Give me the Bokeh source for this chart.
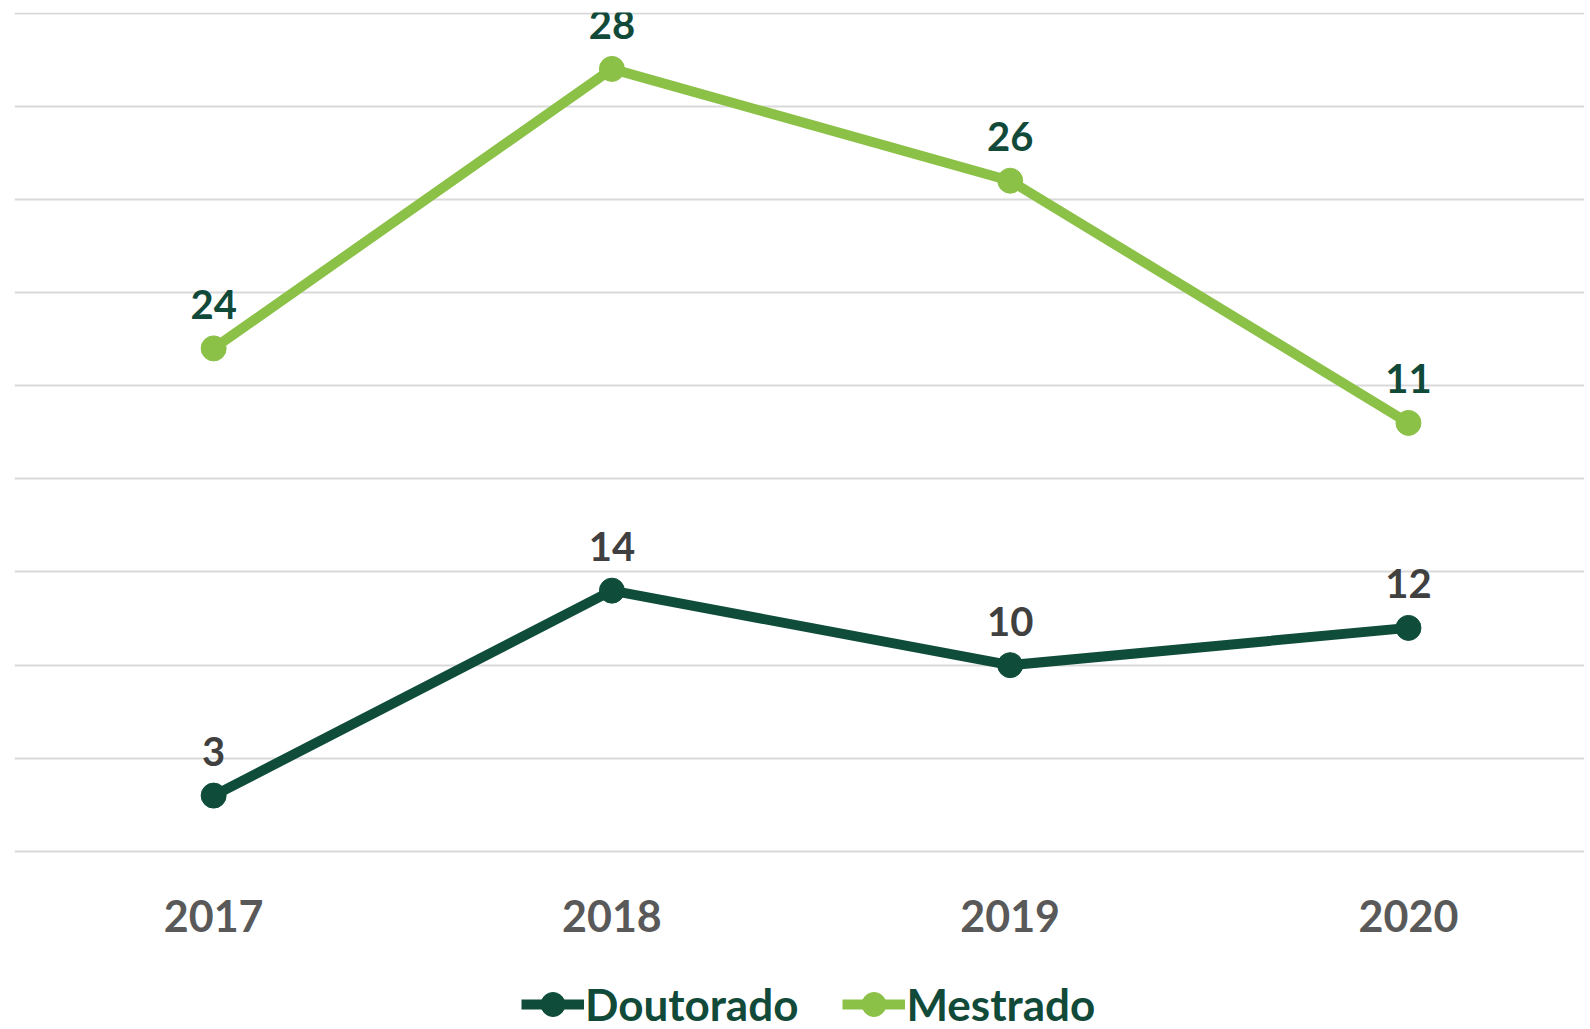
import numpy as np
from bokeh.plotting import figure
from bokeh.models import Range1d, FixedTicker, Legend, LegendItem, ColumnDataSource, LinearAxis
from bokeh.core.properties import value
from bokeh.embed import file_html
from bokeh.resources import INLINE

years = ["2017", "2018", "2019", "2020"]
doutorado = [3, 14, 10, 12]
mestrado = [24, 28, 26, 11]
grid_ticks = [0, 5, 10, 15, 20, 25, 30, 35, 40, 45]

DARK = "#0f4d3a"
LIGHT = "#8cc148"
FONT = "Lato"

x = list(range(len(years)))
dout_y = np.array(doutorado)
mest_y = dout_y + np.array(mestrado)  # stacked line chart

p = figure(frame_width=1570, frame_height=1016, output_backend="svg", toolbar_location=None,
           x_range=Range1d(-0.5, 3.442), y_range=Range1d(-9.5, 45.027),
           x_axis_location=None, y_axis_location=None,
           min_border_left=14, min_border_right=0, min_border_top=12, min_border_bottom=0)
p.outline_line_color = None
p.xgrid.visible = False
p.ygrid.ticker = FixedTicker(ticks=grid_ticks)
p.ygrid.grid_line_color = "#d9d9d9"
p.ygrid.grid_line_width = 2

xaxis = LinearAxis(fixed_location=0, ticker=FixedTicker(ticks=x))
xaxis.major_label_overrides = {i: y for i, y in zip(x, years)}
xaxis.axis_line_color = None
xaxis.major_tick_line_color = None
xaxis.minor_tick_line_color = None
xaxis.major_tick_out = 0
xaxis.major_tick_in = 0
xaxis.minor_tick_out = 0
xaxis.minor_tick_in = 0
xaxis.major_label_text_font = FONT
xaxis.major_label_text_font_style = "bold"
xaxis.major_label_text_font_size = "43px"
xaxis.major_label_text_color = "#595959"
xaxis.major_label_standoff = 49
p.add_layout(xaxis, "below")

src_d = ColumnDataSource(dict(x=x, y=dout_y, lab=[str(v) for v in doutorado]))
src_m = ColumnDataSource(dict(x=x, y=mest_y, lab=[str(v) for v in mestrado]))

ld = p.line("x", "y", source=src_d, line_width=10, line_color=DARK)
sd = p.scatter("x", "y", source=src_d, size=25, fill_color=DARK, line_color=DARK)
lm = p.line("x", "y", source=src_m, line_width=10, line_color=LIGHT)
sm = p.scatter("x", "y", source=src_m, size=25, fill_color=LIGHT, line_color=LIGHT)

p.text("x", "y", text="lab", source=src_d, text_align="center", text_baseline="alphabetic",
       y_offset=-44, text_font=value(FONT), text_font_style="bold", text_font_size="40px",
       text_color="#404040")
p.text("x", "y", text="lab", source=src_m, text_align="center", text_baseline="alphabetic",
       y_offset=-44, text_font=value(FONT), text_font_style="bold", text_font_size="40px",
       text_color="#124a3a")

legend = Legend(items=[LegendItem(label="Doutorado", renderers=[ld, sd]),
                       LegendItem(label="Mestrado", renderers=[lm, sm])],
                orientation="horizontal", location=(507, -6),
                label_text_font=FONT, label_text_font_style="bold",
                label_text_font_size="44px", label_text_color="#124a3a",
                glyph_width=63, glyph_height=60, label_standoff=1, spacing=44,
                border_line_color=None, background_fill_alpha=0, padding=0, margin=0)
p.add_layout(legend, "center")

open("out.html", "w").write(file_html(p, INLINE))
